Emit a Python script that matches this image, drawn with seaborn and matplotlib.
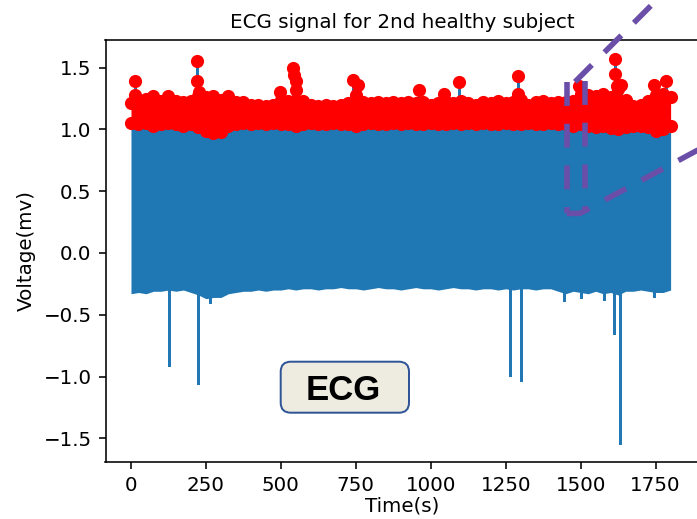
import numpy as np
import pandas as pd
import matplotlib
matplotlib.use("Agg")
import matplotlib.pyplot as plt
from matplotlib.patches import FancyBboxPatch
from matplotlib.transforms import IdentityTransform
import seaborn as sns

# envelope of the trace, read every 25 s
t_env = [0, 25, 50, 75, 100, 125, 150, 175, 200, 225, 250, 275, 300, 325, 350, 375,
         400, 425, 450, 475, 500, 525, 550, 575, 600, 625, 650, 675, 700, 725, 750, 775,
         800, 825, 850, 875, 900, 925, 950, 975, 1000, 1025, 1050, 1075, 1100, 1125, 1150, 1175,
         1200, 1225, 1250, 1275, 1300, 1325, 1350, 1375, 1400, 1425, 1450, 1475, 1500, 1525, 1550, 1575,
         1600, 1625, 1650, 1675, 1700, 1725, 1750, 1775, 1800]
# top of the detected R-peaks (dot centres)
red_top = [1.21, 1.21, 1.25, 1.27, 1.23, 1.27, 1.23, 1.22, 1.23, 1.27, 1.26, 1.27, 1.24, 1.27, 1.22, 1.22,
           1.20, 1.20, 1.19, 1.20, 1.24, 1.23, 1.32, 1.23, 1.20, 1.19, 1.20, 1.19, 1.20, 1.21, 1.28, 1.22,
           1.21, 1.22, 1.21, 1.22, 1.21, 1.22, 1.21, 1.22, 1.20, 1.21, 1.22, 1.21, 1.23, 1.21, 1.20, 1.22,
           1.21, 1.23, 1.21, 1.22, 1.24, 1.20, 1.22, 1.23, 1.21, 1.22, 1.22, 1.23, 1.29, 1.28, 1.27, 1.29,
           1.26, 1.33, 1.24, 1.19, 1.20, 1.23, 1.28, 1.29, 1.26]
# lowest R-peaks
red_bot = [1.05, 1.04, 1.05, 1.03, 1.04, 1.05, 1.04, 1.03, 1.04, 1.02, 0.99, 0.97, 0.98, 1.03, 1.04, 1.05,
           1.04, 1.05, 1.04, 1.05, 1.04, 1.04, 1.03, 1.04, 1.05, 1.04, 1.04, 1.05, 1.04, 1.04, 1.03, 1.04,
           1.05, 1.04, 1.04, 1.05, 1.04, 1.05, 1.04, 1.04, 1.05, 1.04, 1.04, 1.05, 1.04, 1.05, 1.04, 1.05,
           1.04, 1.04, 1.05, 1.04, 1.04, 1.05, 1.04, 1.04, 1.05, 1.04, 1.04, 1.03, 1.04, 1.03, 1.02, 1.03,
           1.01, 1.00, 1.02, 1.03, 1.03, 1.02, 0.99, 1.00, 1.03]
# bottom of the trace
blue_low = [-0.33, -0.32, -0.33, -0.31, -0.31, -0.30, -0.31, -0.30, -0.32, -0.34, -0.37, -0.36, -0.36, -0.33, -0.32, -0.31,
            -0.31, -0.30, -0.31, -0.30, -0.30, -0.29, -0.30, -0.29, -0.29, -0.30, -0.29, -0.29, -0.28, -0.29, -0.29, -0.30,
            -0.29, -0.28, -0.29, -0.29, -0.30, -0.29, -0.28, -0.29, -0.29, -0.30, -0.29, -0.28, -0.29, -0.29, -0.30, -0.29,
            -0.29, -0.30, -0.29, -0.30, -0.29, -0.29, -0.30, -0.29, -0.29, -0.31, -0.33, -0.31, -0.32, -0.33, -0.31, -0.33,
            -0.32, -0.34, -0.31, -0.31, -0.30, -0.31, -0.32, -0.32, -0.30]

# isolated tall peaks
peak_t = [12, 14, 219, 219, 226, 497, 541, 545, 552, 742, 757, 960, 1044, 1094, 1290, 1292, 1494,
          1616, 1616, 1620, 1636, 1745, 1786]
peak_v = [1.39, 1.28, 1.55, 1.39, 1.30, 1.30, 1.50, 1.44, 1.39, 1.40, 1.36, 1.32, 1.29, 1.38, 1.43, 1.29, 1.35,
          1.57, 1.45, 1.35, 1.36, 1.36, 1.395]
# negative artefacts
dip_t = [126, 225, 262, 1263, 1300, 1444, 1501, 1577, 1612, 1632, 1745]
dip_v = [-0.91, -1.055, -0.40, -0.99, -1.03, -0.38, -0.36, -0.37, -0.65, -1.54, -0.35]

xticks = [0, 250, 500, 750, 1000, 1250, 1500, 1750]

blue = "#1f77b4"
purple = "#6A4EA8"

fig = plt.figure(figsize=(697 / 143, 519 / 143), dpi=143)
ax = fig.add_axes([105.5 / 697, 1 - 462 / 519, 593 / 697, 422.5 / 519])

ax.fill_between(t_env, blue_low, red_bot, color=blue, lw=0, zorder=2)

stems = []
for i, (t, v) in enumerate(zip(peak_t, peak_v)):
    stems += [(f"p{i}", t, 1.0), (f"p{i}", t, v)]
for i, (t, v) in enumerate(zip(dip_t, dip_v)):
    stems += [(f"d{i}", t, -0.25), (f"d{i}", t, v)]
stems = pd.DataFrame(stems, columns=["id", "t", "v"])
sns.lineplot(data=stems, x="t", y="v", units="id", estimator=None, sort=False,
             color=blue, linewidth=1.5, ax=ax, legend=False, zorder=2)

ax.fill_between(t_env, red_bot, red_top, color="red", lw=0, zorder=3)
dots = pd.DataFrame({"t": t_env + t_env + peak_t, "v": red_top + red_bot + peak_v})
sns.scatterplot(data=dots, x="t", y="v", color="red", s=44, linewidth=0, ax=ax,
                legend=False, zorder=3)

ax.set_xlim(-85, 1893)
ax.set_ylim(-1.692, 1.728)
ax.set_xticks(xticks)
ax.set_title("ECG signal for 2nd healthy subject", fontsize=10)
ax.set_xlabel("Time(s)", labelpad=1)
ax.set_ylabel("Voltage(mv)")

# zoom window marker with connectors running off to the right
dash = dict(color=purple, lw=2.8, linestyle=(0, (4.3, 3.2)), clip_on=False, zorder=5)
ax.plot([1453, 1453], [1.385, 0.32], **dash)
ax.plot([1514, 1514], [1.39, 0.32], **dash)
ax.plot([1481, 1898], [1.385, 2.40], **dash)
ax.plot([1453, 1497, 1965], [0.32, 0.32, 0.93], **dash)

# label box
box = FancyBboxPatch((280.7, 519 - 412.7), 128.3, 51,
                     boxstyle="round,pad=0,rounding_size=10",
                     fc="#EEECE1", ec="#2F5597", lw=1.0, transform=IdentityTransform())
fig.add_artist(box)
fig.text(343.3 / 697, 1 - 400 / 519, "ECG", ha="center", va="baseline",
         fontsize=17.5, fontweight="bold", family="Liberation Sans")

fig.savefig("out.png", dpi=143)
